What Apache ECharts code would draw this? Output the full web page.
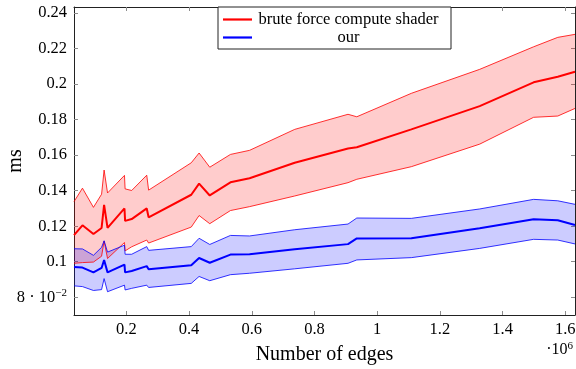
<!DOCTYPE html>
<html>
<head>
<meta charset="utf-8">
<script src="https://cdn.jsdelivr.net/npm/echarts@6/dist/echarts.min.js"></script>
<style>
html,body{margin:0;padding:0;background:#fff;}
#c{width:576px;height:369px;}
</style>
</head>
<body>
<div id="c"></div>
<script>
// Number of edges
const edges = [33000, 60000, 95000, 121000, 129000, 140000, 194000, 196000, 217000, 265000, 271000, 407000, 432000, 466000, 532000, 593000, 737000, 907000, 935000, 1109000, 1327000, 1499000, 1576000, 1631000];
// brute force compute shader (ms)
const bruteMean  = [0.115, 0.1205, 0.1156, 0.119, 0.132, 0.119, 0.130, 0.123, 0.124, 0.130, 0.125, 0.1377, 0.144, 0.1373, 0.1447, 0.147, 0.1557, 0.1637, 0.1644, 0.1745, 0.1876, 0.201, 0.2041, 0.2069];
const bruteUpper = [0.1338, 0.1414, 0.1306, 0.138, 0.1516, 0.1387, 0.1486, 0.141, 0.1401, 0.1487, 0.1403, 0.1557, 0.1612, 0.1532, 0.1604, 0.1627, 0.1745, 0.183, 0.1816, 0.1948, 0.2083, 0.221, 0.2263, 0.228];
const bruteLower = [0.0991, 0.0995, 0.0998, 0.1031, 0.1116, 0.1018, 0.1108, 0.1061, 0.1084, 0.1122, 0.1105, 0.1195, 0.126, 0.1214, 0.1288, 0.131, 0.137, 0.1445, 0.1464, 0.1535, 0.1662, 0.1813, 0.182, 0.1863];
// our (ms)
const ourMean  = [0.097, 0.0967, 0.094, 0.0965, 0.101, 0.094, 0.0984, 0.094, 0.0948, 0.0975, 0.0958, 0.098, 0.1021, 0.0994, 0.104, 0.1042, 0.107, 0.1099, 0.1131, 0.1132, 0.1188, 0.1239, 0.1233, 0.1207];
const ourUpper = [0.1073, 0.1072, 0.1036, 0.1081, 0.1118, 0.1054, 0.1093, 0.1042, 0.1042, 0.1085, 0.1064, 0.1085, 0.1132, 0.1097, 0.1148, 0.1145, 0.118, 0.1212, 0.1246, 0.1244, 0.1297, 0.1351, 0.1343, 0.1323];
const ourLower = [0.0864, 0.086, 0.0838, 0.0843, 0.0905, 0.0831, 0.0868, 0.0841, 0.085, 0.0868, 0.0855, 0.0878, 0.0917, 0.0893, 0.0927, 0.0935, 0.096, 0.0991, 0.101, 0.1023, 0.1075, 0.1126, 0.1122, 0.11];
// tick labels
const xTicks = [200000, 400000, 600000, 800000, 1000000, 1200000, 1400000, 1600000];
const yTicks = [0.08, 0.10, 0.12, 0.14, 0.16, 0.18, 0.20, 0.22, 0.24];
const seriesNames = ['brute force compute shader', 'our'];

const FONT = "'Liberation Serif','DejaVu Serif',serif";
const pairs = (ys) => edges.map((x, i) => [x, ys[i]]);

const chart = echarts.init(document.getElementById('c'), null, {renderer: 'canvas'});

const tickStyle = {show: true, inside: true, length: 4, lineStyle: {color: '#8c8c8c', width: 1}};
const lineAxis = {show: true, lineStyle: {color: '#222', width: 1}};

function bandSeries(hi, lo, color, fill) {
  return [
    {type: 'custom', silent: true, z: 1, clip: true,
     data: edges.map((x, i) => [x, lo[i], hi[i]]),
     encode: {x: 0, y: [1, 2]},
     renderItem: function (params, api) {
       if (params.dataIndex !== 0) return null;
       const pts = [];
       for (let i = 0; i < edges.length; i++) pts.push(api.coord([edges[i], hi[i]]));
       for (let i = edges.length - 1; i >= 0; i--) pts.push(api.coord([edges[i], lo[i]]));
       return {type: 'polygon', shape: {points: pts}, style: {fill: fill, stroke: null}};
     }},
    {type: 'line', data: pairs(lo), symbol: 'none', silent: true, z: 2,
     lineStyle: {color: color, width: 0.8}, itemStyle: {color: color}},
    {type: 'line', data: pairs(hi), symbol: 'none', silent: true, z: 2,
     lineStyle: {color: color, width: 0.8}, itemStyle: {color: color}}
  ];
}

chart.setOption({
  animation: false,
  backgroundColor: '#fff',
  grid: {left: 74, right: 1, top: 7, bottom: 54, containLabel: false, outerBoundsMode: 'none'},
  xAxis: [
    {type: 'value', position: 'bottom', min: 33000, max: 1631000,
     axisLine: lineAxis, splitLine: {show: false},
     axisTick: Object.assign({}, tickStyle, {customValues: xTicks}),
     axisLabel: {customValues: xTicks, margin: 6, color: '#000', fontFamily: FONT, fontSize: 16.5,
       formatter: v => String(+(v / 1e6).toFixed(1))},
     name: 'Number of edges', nameLocation: 'middle', nameGap: 30,
     nameTextStyle: {color: '#000', fontFamily: FONT, fontSize: 20}},
    {type: 'value', position: 'top', min: 33000, max: 1631000,
     axisLine: lineAxis, splitLine: {show: false},
     axisTick: Object.assign({}, tickStyle, {customValues: xTicks}),
     axisLabel: {show: false}}
  ],
  yAxis: [
    {type: 'value', position: 'left', min: 0.07, max: 0.2434,
     axisLine: lineAxis, splitLine: {show: false},
     axisTick: Object.assign({}, tickStyle, {customValues: yTicks}),
     axisLabel: {customValues: yTicks, margin: 7, color: '#000', fontFamily: FONT, fontSize: 16.5,
       formatter: v => Math.abs(v - 0.08) < 1e-9 ? '8 · 10{s|−2}' : String(+v.toFixed(2)),
       rich: {s: {fontSize: 11, fontFamily: FONT, color: '#000', verticalAlign: 'top', padding: [0, 0, 8, 0]}}},
     name: 'ms', nameLocation: 'middle', nameGap: 48, nameRotate: 90, nameMoveOverlap: false,
     nameTextStyle: {color: '#000', fontFamily: FONT, fontSize: 20}},
    {type: 'value', position: 'right', min: 0.07, max: 0.2434,
     axisLine: lineAxis, splitLine: {show: false},
     axisTick: Object.assign({}, tickStyle, {customValues: yTicks}),
     axisLabel: {show: false}}
  ],
  legend: {
    data: seriesNames, orient: 'vertical', left: 218, top: 7,
    backgroundColor: '#fff', borderColor: '#222', borderWidth: 1, borderRadius: 0,
    padding: [4, 11, 3, 5], itemGap: 1, itemWidth: 29, itemHeight: 2.2, icon: 'rect',
    selectedMode: false,
    formatter: n => '{c|' + n + '}',
    textStyle: {color: '#000', fontFamily: FONT, fontSize: 16.5,
      rich: {c: {width: 183, align: 'center', lineHeight: 18, fontSize: 16.5, fontFamily: FONT, color: '#000'}}}
  },
  graphic: [{
    type: 'text', right: 3, top: 341,
    style: {text: '·10{s|6}', fill: '#000', font: '16px ' + FONT,
      rich: {s: {fontSize: 11, fontFamily: FONT, fill: '#000', verticalAlign: 'top', padding: [0, 0, 7, 0]}}}
  }],
  series: [
    ...bandSeries(bruteUpper, bruteLower, '#ff0000', 'rgba(255,0,0,0.2)'),
    ...bandSeries(ourUpper, ourLower, '#0000ff', 'rgba(0,0,255,0.2)'),
    {name: seriesNames[0], type: 'line', data: pairs(bruteMean), symbol: 'none', z: 3,
     lineStyle: {color: '#ff0000', width: 2}, itemStyle: {color: '#ff0000'}},
    {name: seriesNames[1], type: 'line', data: pairs(ourMean), symbol: 'none', z: 3,
     lineStyle: {color: '#0000ff', width: 2}, itemStyle: {color: '#0000ff'}}
  ]
});
</script>
</body>
</html>
